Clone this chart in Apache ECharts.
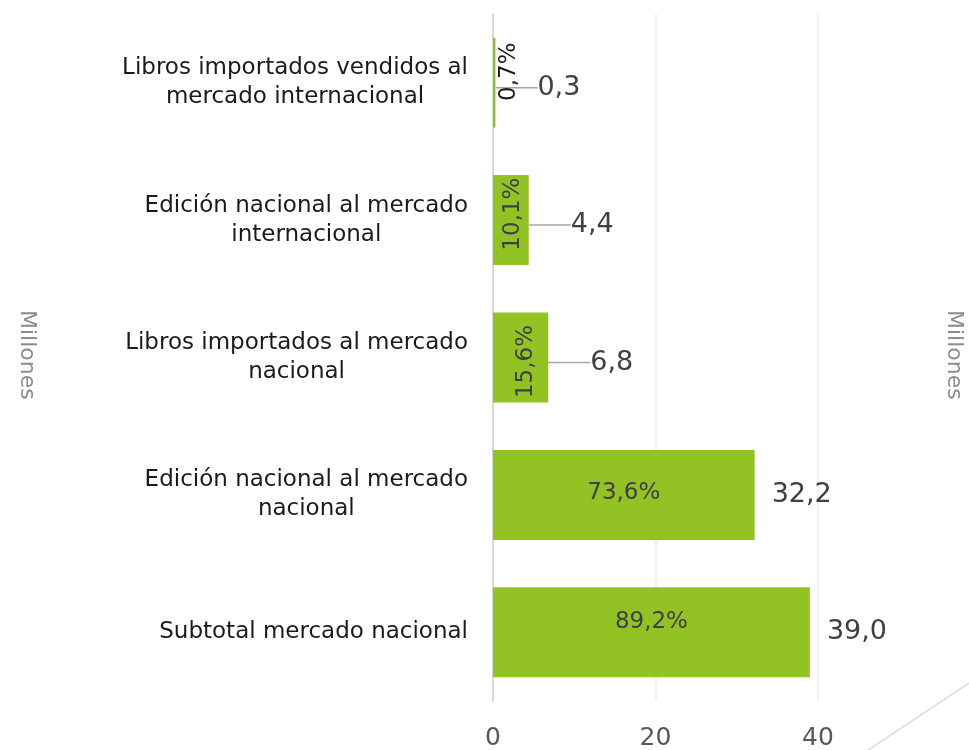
<!DOCTYPE html>
<html>
<head>
<meta charset="utf-8">
<script src="https://cdn.jsdelivr.net/npm/echarts@6/dist/echarts.min.js"></script>
<style>
  html, body { margin: 0; padding: 0; background: #fff; }
  #chart { width: 969px; height: 750px; }
</style>
</head>
<body>
<div id="chart"></div>
<script>
// categories from top to bottom
const categories = [
    "Libros importados vendidos al\nmercado internacional",
    "Edición nacional al mercado\ninternacional",
    "Libros importados al mercado\nnacional",
    "Edición nacional al mercado\nnacional",
    "Subtotal mercado nacional",
];
// millones
const values = [0.3, 4.4, 6.8, 32.2, 39.0];
// share shown inside the bars
const shares = [0.7, 10.1, 15.6, 73.6, 89.2];
const xTicks = [0, 20, 40];

const GREEN = "#93c225";
const FONT = "DejaVu Sans";

const fmt = (v) => v.toFixed(1).replace(".", ",");

// inside label look per bar (small bars get rotated text, offset is in the rotated frame)
const shareLabelStyle = [
    { rotate: 90, offset: [11, 15], color: "#1a1a1a" },
    { rotate: 90, offset: [6, 2], color: "#404040" },
    { rotate: 90, offset: [-4, 5], color: "#404040" },
    { rotate: 0, offset: [0, -2], color: "#404040" },
    { rotate: 0, offset: [0, -10], color: "#404040" },
];

const chart = echarts.init(document.getElementById("chart"));

chart.setOption({
    animation: false,
    grid: {
        left: 493,
        right: -11.5,
        top: 14,
        bottom: 49,
        outerBoundsMode: "none",
    },
    xAxis: {
        type: "value",
        min: 0,
        max: 60,
        interval: 20,
        axisLine: { show: false },
        axisTick: { show: false },
        axisLabel: {
            showMaxLabel: false,
            fontFamily: FONT,
            fontSize: 25,
            color: "#595959",
            margin: 25,
            formatter: (v) => (xTicks.indexOf(v) >= 0 ? String(v) : ""),
        },
        splitLine: { lineStyle: { color: "#ececec", width: 1.5 } },
    },
    yAxis: {
        type: "category",
        inverse: true,
        data: categories,
        axisTick: { show: false },
        axisLine: { show: true, lineStyle: { color: "#d9d9d9", width: 2 } },
        axisLabel: {
            align: "right",
            margin: 25,
            fontFamily: FONT,
            fontSize: 23,
            lineHeight: 29,
            color: "#1a1a1a",
            formatter: (v) =>
                v.split("\n").map((l) => "{c|" + l + "}").join("\n"),
            rich: {
                c: {
                    align: "center",
                    fontFamily: FONT,
                    fontSize: 23,
                    lineHeight: 29,
                    color: "#1a1a1a",
                },
            },
        },
    },
    series: [
        {
            name: "Millones",
            type: "bar",
            barWidth: 90,
            data: values.map((v, i) => ({
                value: v,
                labelLine: { show: i < 3 },
            })),
            itemStyle: { color: GREEN },
            label: {
                show: true,
                position: "right",
                distance: 17,
                fontFamily: FONT,
                fontSize: 27,
                color: "#404040",
                formatter: (p) => fmt(p.value),
            },
            labelLine: {
                show: true,
                lineStyle: { color: "#a6a6a6", width: 1.5 },
            },
            labelLayout: (p) =>
                p.dataIndex < 3 ? { dx: 25, dy: 5 } : {},
        },
        {
            name: "Porcentaje",
            type: "bar",
            barWidth: 90,
            barGap: "-100%",
            silent: true,
            itemStyle: { color: "rgba(0,0,0,0)" },
            data: values.map((v, i) => ({
                value: v,
                label: shareLabelStyle[i],
            })),
            label: {
                show: true,
                position: "inside",
                fontFamily: FONT,
                fontSize: 23,
                formatter: (p) => fmt(shares[p.dataIndex]) + "%",
            },
        },
    ],
    graphic: [
        {
            type: "text",
            left: 16,
            top: 310,
            rotation: -Math.PI / 2,
            style: {
                text: "Millones",
                font: "22px " + FONT,
                fill: "#8c8c8c",
            },
        },
        {
            type: "text",
            left: 943,
            top: 310,
            rotation: -Math.PI / 2,
            style: {
                text: "Millones",
                font: "22px " + FONT,
                fill: "#8c8c8c",
            },
        },
        {
            type: "line",
            shape: { x1: 868, y1: 750, x2: 969, y2: 683 },
            style: { stroke: "#d9d9d9", lineWidth: 1.5 },
        },
    ],
});
</script>
</body>
</html>
